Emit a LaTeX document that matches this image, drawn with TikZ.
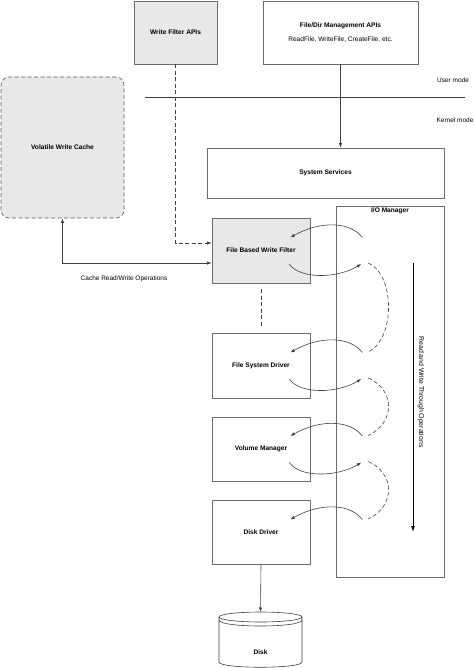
\documentclass[tikz,border=0pt]{standalone}
\usepackage{fontspec}
\setmainfont{Liberation Sans}
\usetikzlibrary{arrows.meta,positioning}

\tikzset{
  layer/.style={draw=gray!85!black, line width=0.6pt, minimum width=98pt, minimum height=64pt,
    font=\bfseries\fontsize{6.6}{7.9}\selectfont, inner sep=1pt},
  shaded/.style={layer, fill=gray!18},
  lbl/.style={font=\fontsize{6.5}{7.8}\selectfont, inner sep=1pt},
  conn/.style={draw=black!75, line width=0.6pt},
  tip/.style={-{Latex[length=4.5pt,width=3.2pt]}},
  dsh/.style={dash pattern=on 4pt off 2.5pt},
}

\begin{document}
\begin{tikzpicture}[x=1pt, y=-1pt]
  \useasboundingbox (0,0) rectangle (474,668);

  % user mode side
  \node[shaded, minimum width=83pt, minimum height=63pt] (wfapi) at (175.5,32.5) {Write Filter APIs};
  \node[layer, minimum width=155pt, minimum height=63pt, align=center] (fdapi) at (340.5,32.5)
    {File/Dir Management APIs\\[7pt]{\mdseries ReadFile, WriteFile, CreateFile, etc.}};

  \coordinate (modeL) at (145,97);
  \coordinate (modeR) at (465,97);
  \draw[conn] (modeL) -- (modeR);
  \node[lbl] (umode) at (453,80) {User mode};
  \node[lbl] (kmode) at (455,120) {Kernel mode};

  \node[layer, dsh, draw=gray!70!black, fill=gray!18, rounded corners=8pt, minimum width=123pt, minimum height=141pt]
    (cache) at (62.5,147.5) {Volatile Write Cache};

  % kernel mode side
  \node[layer, minimum width=237pt, minimum height=50pt] (sysserv) at (325.5,173) {System Services};
  \node[layer, minimum width=108pt, minimum height=371pt,
    label={[lbl, font=\bfseries\fontsize{6.6}{7.9}\selectfont, anchor=north, yshift=-0.5pt]north:I/O Manager}]
    (iomgr) at (390,391.5) {};

  \node[shaded, minimum height=65pt] (fbwf) at (261,250.5) {File Based Write Filter};
  \node[layer, minimum height=65pt] (fsd) at (261,365.5) {File System Driver};
  \node[layer] (volmgr) at (261,449) {Volume Manager};
  \node[layer] (diskdrv) at (261,532.5) {Disk Driver};

  % disk
  \coordinate (disktop) at (260.5,612);
  \draw[conn, fill=white] (219,617) -- (219,662) .. controls (219,669) and (302,669) .. (302,662) -- (302,617);
  \draw[conn] (260.5,617) ellipse [x radius=41.5, y radius=5];
  \draw[conn] (219,620) .. controls (219,628) and (302,628) .. (302,620);
  \node[font=\bfseries\fontsize{6.6}{7.9}\selectfont] (disk) at (260.5,652) {Disk};

  % connectors
  \draw[conn, tip] (fdapi.south) -- (fdapi.south |- sysserv.north);
  \draw[conn, dsh, tip] (wfapi.south) |- ([yshift=7.5pt]fbwf.west);
  \draw[conn, {Latex[length=4.5pt,width=3.2pt]}-{Latex[length=4.5pt,width=3.2pt]}]
    (cache.south) |- ([yshift=-12.5pt]fbwf.west);
  \node[lbl] (cachelbl) at (124,279) {Cache Read/Write Operations};
  \draw[conn, dsh] ([yshift=-6pt]fbwf.south) -- ([yshift=6pt]fsd.north);
  \draw[conn, tip] (diskdrv.south) -- (disktop);

  % calls down through the stack
  \foreach \lay in {fbwf,fsd,volmgr,diskdrv}
    \draw[conn, tip] ([shift={(52,-13)}]\lay.east) .. controls +(-12,-16) and +(30,-17) .. ([shift={(-20,-13)}]\lay.east);
  \foreach \lay in {fbwf,fsd,volmgr}
    \draw[conn, tip] ([shift={(-21,13.5)}]\lay.east) .. controls +(10,15) and +(-25,15) .. ([shift={(51,13.5)}]\lay.east);
  \foreach \a/\b in {fbwf/fsd,fsd/volmgr,volmgr/diskdrv}
    \draw[conn, dsh] ([shift={(58,12.5)}]\a.east) .. controls +(27,12) and +(27,-13) .. ([shift={(58,-13.5)}]\b.east);

  \coordinate (rwtop) at (413,263);
  \coordinate (rwbot) at (413,532);
  \draw[black, line width=1pt, -{Latex[length=6pt,width=4pt]}] (rwtop) -- (rwbot);
  \node[lbl, font=\fontsize{6.9}{8.3}\selectfont, rotate=-90] (rwlbl) at (421,392) {Read and Write Through Operations};
\end{tikzpicture}
\end{document}
